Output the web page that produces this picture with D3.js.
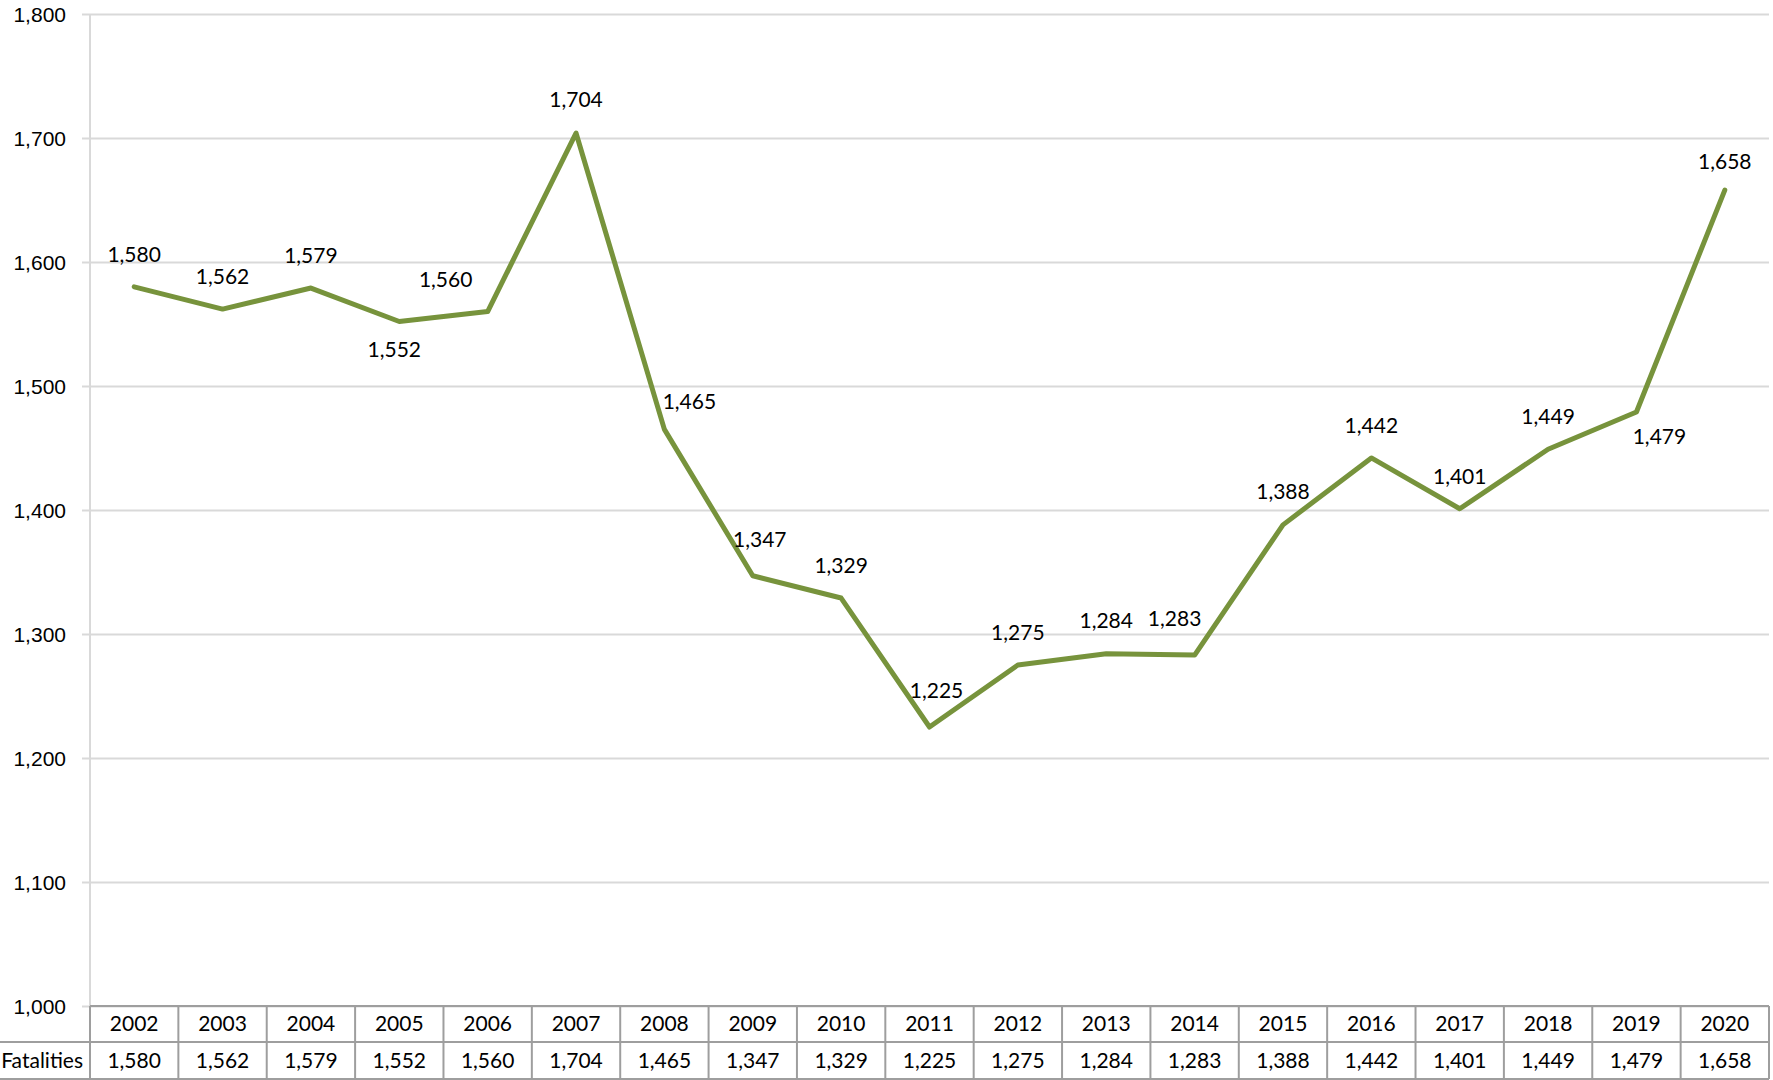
<!DOCTYPE html>
<html>
<head>
<meta charset="utf-8">
<script src="https://cdn.jsdelivr.net/npm/d3@7"></script>
<style>
  html, body { margin: 0; padding: 0; background: #fff; }
  svg { display: block; font-family: Lato, "Open Sans", sans-serif; }
  .grid line { stroke: #d9d9d9; stroke-width: 2; }
  .grid path { display: none; }
  .yaxis path { display: none; }
  .yaxis line { stroke: #d9d9d9; stroke-width: 2; }
  .yaxis text { font-size: 21px; fill: #000; }
  .table-line { stroke: #9e9e9e; stroke-width: 2; }
  .cell-text { font-size: 21px; fill: #000; }
  .point-label { font-size: 21px; fill: #000; }
</style>
</head>
<body>
<svg id="chart" width="1773" height="1080"></svg>
<script>
// --- data
const years = ['2002', '2003', '2004', '2005', '2006', '2007', '2008', '2009', '2010', '2011',
  '2012', '2013', '2014', '2015', '2016', '2017', '2018', '2019', '2020'];
const fatalities = [1580, 1562, 1579, 1552, 1560, 1704, 1465, 1347, 1329, 1225,
  1275, 1284, 1283, 1388, 1442, 1401, 1449, 1479, 1658];
const yTicks = [1000, 1100, 1200, 1300, 1400, 1500, 1600, 1700, 1800];
const seriesName = 'Fatalities';

// label nudges (dx, dy from the point), kept apart from the values
const labelNudge = [
  [0, -32], [0, -32], [0, -32], [-5, 28], [-42, -32], [0, -33], [25, -28], [7, -36], [0, -32], [7, -36],
  [0, -32], [0, -33], [-20, -36], [0, -33], [0, -32], [0, -32], [0, -33], [23, 25], [0, -28]
];

const WIDTH = 1773;
const HEIGHT = 1080;
const plot = { left: 90, right: 1769, top: 14, bottom: 1006 };
const rowH = [1006, 1042, 1079];
const LINE_COLOR = '#77933c';

const svg = d3.select('#chart');
const fmt = d3.format(',');

const x = d3.scaleBand().domain(years).range([plot.left, plot.right]);
const y = d3.scaleLinear().domain([1000, 1800]).range([plot.bottom, plot.top]);
const cx = d => x(d) + x.bandwidth() / 2;

// gridlines
svg.append('g')
  .attr('class', 'grid')
  .attr('transform', `translate(${plot.left},0)`)
  .call(d3.axisLeft(y).tickValues(yTicks).tickSize(-(plot.right - plot.left)).tickFormat(''));

// y axis line
svg.append('line')
  .attr('x1', plot.left).attr('x2', plot.left)
  .attr('y1', plot.top).attr('y2', plot.bottom)
  .attr('stroke', '#d9d9d9').attr('stroke-width', 2);

// y ticks + labels
svg.append('g')
  .attr('class', 'yaxis')
  .attr('transform', `translate(${plot.left},0)`)
  .call(d3.axisLeft(y).tickValues(yTicks).tickSize(8).tickPadding(16).tickFormat(fmt))
  .selectAll('text')
  .attr('dy', '0.35em');

// data table under the plot
const table = svg.append('g').classed('DataTable', true);

table.append('line').attr('class', 'table-line')
  .attr('x1', plot.left).attr('x2', plot.right)
  .attr('y1', rowH[0]).attr('y2', rowH[0]);

[rowH[1], rowH[2]].forEach(ry => {
  table.append('line').attr('class', 'table-line')
    .attr('x1', 0).attr('x2', plot.right)
    .attr('y1', ry).attr('y2', ry);
});

const edges = years.map(d => x(d)).concat([plot.right]);
table.selectAll('.col-edge')
  .data(edges)
  .enter()
  .append('line')
  .attr('class', 'table-line col-edge')
  .attr('x1', d => d).attr('x2', d => d)
  .attr('y1', rowH[0]).attr('y2', rowH[2]);

table.selectAll('.year-text')
  .data(years)
  .enter()
  .append('text')
  .attr('class', 'cell-text year-text')
  .attr('x', d => cx(d))
  .attr('y', (rowH[0] + rowH[1]) / 2)
  .attr('dy', '0.35em')
  .attr('text-anchor', 'middle')
  .text(d => d);

table.selectAll('.value-text')
  .data(fatalities)
  .enter()
  .append('text')
  .attr('class', 'cell-text value-text')
  .attr('x', (d, i) => cx(years[i]))
  .attr('y', (rowH[1] + rowH[2]) / 2)
  .attr('dy', '0.35em')
  .attr('text-anchor', 'middle')
  .text(d => fmt(d));

table.append('text')
  .attr('class', 'cell-text')
  .attr('x', plot.left - 7)
  .attr('y', (rowH[1] + rowH[2]) / 2)
  .attr('dy', '0.35em')
  .attr('text-anchor', 'end')
  .text(seriesName);

// series line
const line = d3.line()
  .x((d, i) => cx(years[i]))
  .y(d => y(d));

svg.append('path')
  .datum(fatalities)
  .attr('fill', 'none')
  .attr('stroke', LINE_COLOR)
  .attr('stroke-width', 5)
  .attr('stroke-linejoin', 'round')
  .attr('stroke-linecap', 'round')
  .attr('d', line);

// data labels
svg.append('g').selectAll('.point-label')
  .data(fatalities)
  .enter()
  .append('text')
  .attr('class', 'point-label')
  .attr('x', (d, i) => cx(years[i]) + labelNudge[i][0])
  .attr('y', (d, i) => y(d) + labelNudge[i][1])
  .attr('dy', '0.35em')
  .attr('text-anchor', 'middle')
  .text(d => fmt(d));
</script>
</body>
</html>
